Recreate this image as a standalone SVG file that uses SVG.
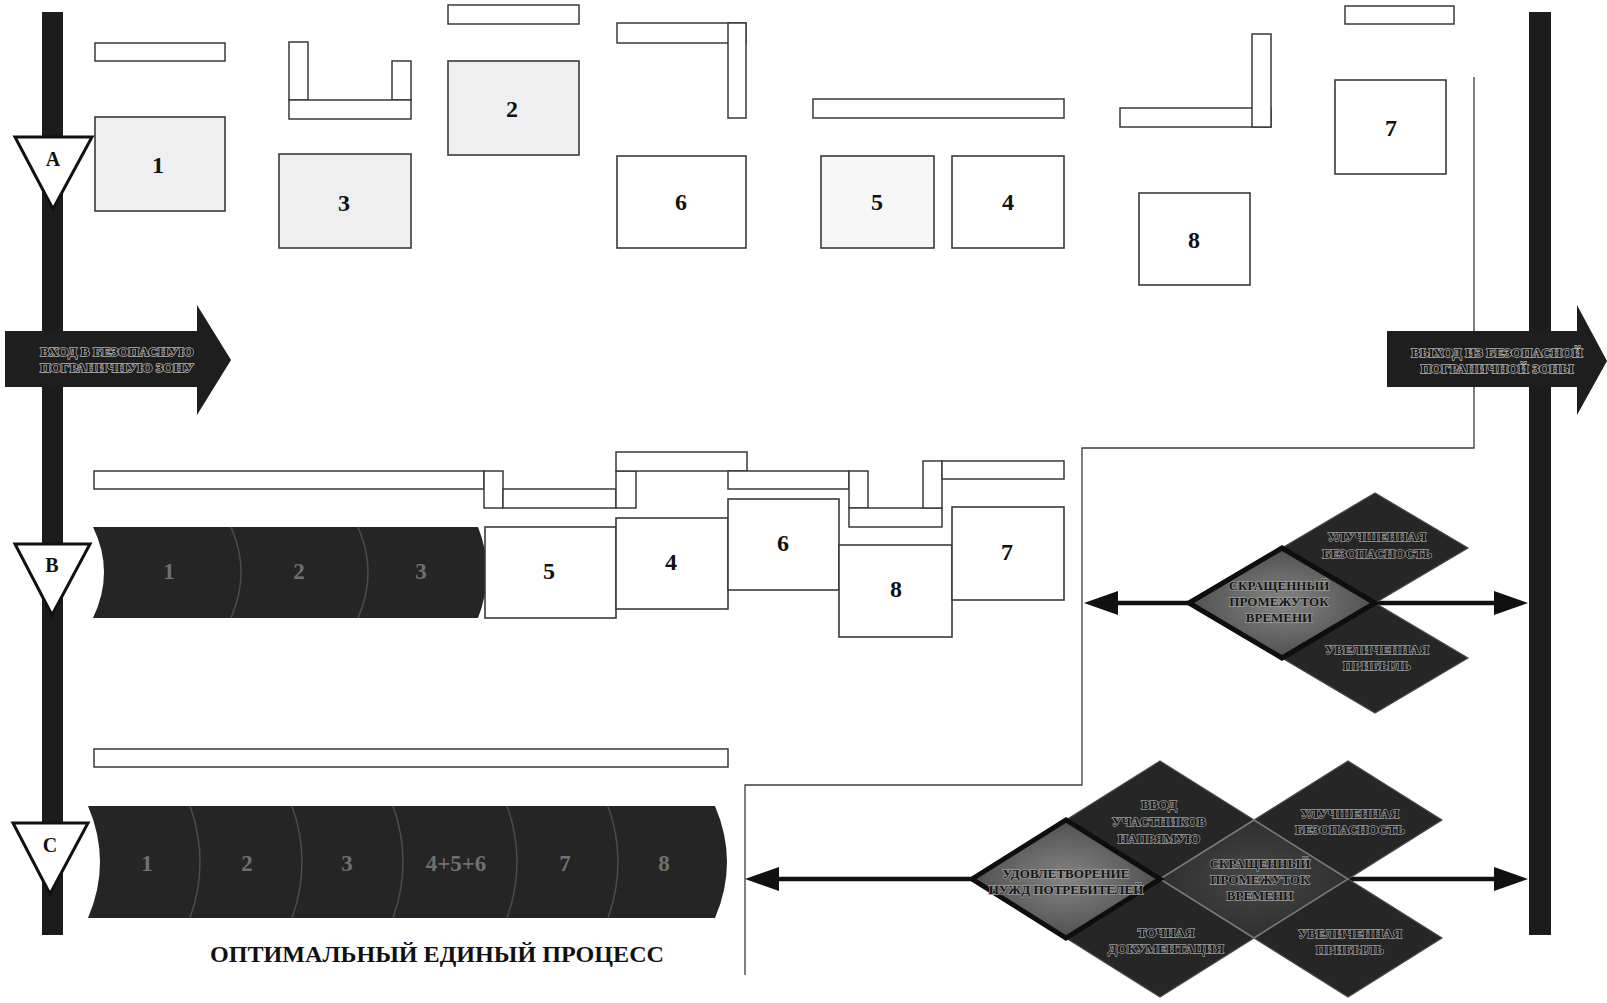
<svg xmlns="http://www.w3.org/2000/svg" width="1607" height="1003" viewBox="0 0 1607 1003">
<defs>
<style>
.bg{fill:#ffffff}
.box{fill:#ffffff;stroke:#3a3a3a;stroke-width:1.6}
.boxg{fill:#efefef;stroke:#3a3a3a;stroke-width:1.6}
.strip{fill:#ffffff;stroke:#3a3a3a;stroke-width:1.5}
.num{font-family:"Liberation Serif",serif;font-size:24px;font-weight:bold;fill:#111;text-anchor:middle;dominant-baseline:central}
.bnum{font-family:"Liberation Serif",serif;font-size:23px;font-weight:bold;fill:#707070;text-anchor:middle;dominant-baseline:central}
.bar{fill:#1c1c1c}
.band{fill:#252525}
.div{fill:none;stroke:#4c4c4c;stroke-width:1.5}
.tri{fill:#ffffff;stroke:#111;stroke-width:3;stroke-linejoin:miter}
.tl{font-family:"Liberation Serif",serif;font-size:20px;font-weight:bold;fill:#111;text-anchor:middle;dominant-baseline:central}
.arr{fill:#1e1e1e}
.at{font-family:"Liberation Serif",serif;font-size:13.5px;font-weight:bold;fill:#141414;stroke:#b0b0b0;stroke-width:1.5;paint-order:stroke;text-anchor:middle;dominant-baseline:central}
.dm{fill:#262626;stroke:#4a4a4a;stroke-width:1.2}
.dmm{fill:url(#gm);stroke:#7a7a7a;stroke-width:1.5}
.dmh{fill:url(#gh);stroke:#0e0e0e;stroke-width:5;stroke-linejoin:miter}
.dt{font-family:"Liberation Serif",serif;font-size:13px;font-weight:bold;fill:#151515;stroke:#9c9c9c;stroke-width:1.4;paint-order:stroke;text-anchor:middle;dominant-baseline:central}
.thin{fill:none;stroke:#3c3c3c;stroke-width:1.3}
.con{fill:none;stroke:#111;stroke-width:4.5}
.title{font-family:"Liberation Serif",serif;font-size:23px;font-weight:bold;fill:#111;text-anchor:middle;dominant-baseline:central}
</style>
<radialGradient id="gh" cx="50%" cy="50%" r="60%">
<stop offset="0" stop-color="#858585"/>
<stop offset="1" stop-color="#454545"/>
</radialGradient>
<radialGradient id="gm" cx="50%" cy="50%" r="60%">
<stop offset="0" stop-color="#474747"/>
<stop offset="1" stop-color="#2a2a2a"/>
</radialGradient>
<marker id="ah" markerUnits="userSpaceOnUse" markerWidth="36" markerHeight="26" refX="0" refY="12" orient="auto">
<path d="M0,0 L34,12 L0,24 Z" fill="#111"/>
</marker>
</defs>
<rect class="bg" x="0" y="0" width="1607" height="1003"/>

<!-- thin boundary line -->
<g id="boundary-line">
<path class="thin" d="M1474,77 V448 H1082 V785 H745 V975"/>
</g>

<!-- vertical bars -->
<g id="left-bar"><rect class="bar" x="42" y="12" width="21" height="923"/></g>
<g id="right-bar"><rect class="bar" x="1529" y="12" width="22" height="923"/></g>

<!-- Section A -->
<g id="a-strips">
<rect class="strip" x="95" y="43" width="130" height="18"/>
<rect class="strip" x="289" y="42" width="19" height="58"/>
<rect class="strip" x="392" y="61" width="19" height="39"/>
<rect class="strip" x="289" y="100" width="122" height="19"/>
<rect class="strip" x="448" y="5" width="131" height="19"/>
<rect class="strip" x="617" y="23" width="129" height="20"/>
<rect class="strip" x="728" y="23" width="18" height="95"/>
<rect class="strip" x="813" y="99" width="251" height="19"/>
<rect class="strip" x="1120" y="108" width="151" height="19"/>
<rect class="strip" x="1252" y="34" width="19" height="93"/>
<rect class="strip" x="1345" y="6" width="109" height="18"/>
</g>
<g id="a-box-1"><rect class="boxg" x="95" y="117" width="130" height="94"/><text class="num" x="158" y="165">1</text></g>
<g id="a-box-3"><rect class="boxg" x="279" y="154" width="132" height="94"/><text class="num" x="344" y="203">3</text></g>
<g id="a-box-2"><rect class="boxg" x="448" y="61" width="131" height="94"/><text class="num" x="512" y="109">2</text></g>
<g id="a-box-6"><rect class="box" x="617" y="156" width="129" height="92"/><text class="num" x="681" y="202">6</text></g>
<g id="a-box-5"><rect class="box" x="821" y="156" width="113" height="92" style="fill:#f7f7f7"/><text class="num" x="877" y="202">5</text></g>
<g id="a-box-4"><rect class="box" x="952" y="156" width="112" height="92"/><text class="num" x="1008" y="202">4</text></g>
<g id="a-box-8"><rect class="box" x="1139" y="193" width="111" height="92"/><text class="num" x="1194" y="240">8</text></g>
<g id="a-box-7"><rect class="box" x="1335" y="80" width="111" height="94"/><text class="num" x="1391" y="128">7</text></g>

<!-- Entry / exit arrows -->
<g id="entry-arrow">
<polygon class="arr" points="5,331 197,331 197,305 231,360 197,415 197,387 5,387"/>
<text class="at" x="117" y="351">ВХОД В БЕЗОПАСНУЮ</text>
<text class="at" x="117" y="367">ПОГРАНИЧНУЮ ЗОНУ</text>
</g>
<g id="exit-arrow">
<polygon class="arr" points="1387,331 1577,331 1577,305 1607,361 1577,415 1577,387 1387,387"/>
<text class="at" x="1497" y="352">ВЫХОД ИЗ БЕЗОПАСНОЙ</text>
<text class="at" x="1497" y="368">ПОГРАНИЧНОЙ ЗОНЫ</text>
</g>

<!-- Section B -->
<g id="b-strips">
<rect class="strip" x="94" y="471" width="390" height="18"/>
<rect class="strip" x="484" y="471" width="19" height="37"/>
<rect class="strip" x="503" y="489" width="113" height="19"/>
<rect class="strip" x="616" y="471" width="20" height="37"/>
<rect class="strip" x="616" y="452" width="131" height="19"/>
<rect class="strip" x="728" y="471" width="121" height="18"/>
<rect class="strip" x="849" y="471" width="19" height="37"/>
<rect class="strip" x="849" y="508" width="93" height="19"/>
<rect class="strip" x="923" y="461" width="19" height="47"/>
<rect class="strip" x="942" y="461" width="122" height="18"/>
</g>
<g id="b-band">
<path class="band" d="M93,527 L478,527 Q496,572 478,618 L93,618 Q115,572 93,527 Z"/>
<path class="div" d="M231,527 Q251,572 231,618"/>
<path class="div" d="M358,527 Q378,572 358,618"/>
<text class="bnum" x="169" y="571">1</text>
<text class="bnum" x="299" y="571">2</text>
<text class="bnum" x="421" y="571">3</text>
</g>
<g id="b-box-5"><rect class="box" x="485" y="527" width="131" height="91"/><text class="num" x="549" y="571">5</text></g>
<g id="b-box-4"><rect class="box" x="616" y="518" width="112" height="91"/><text class="num" x="671" y="562">4</text></g>
<g id="b-box-6"><rect class="box" x="728" y="499" width="111" height="91"/><text class="num" x="783" y="543">6</text></g>
<g id="b-box-8"><rect class="box" x="839" y="545" width="113" height="92"/><text class="num" x="896" y="589">8</text></g>
<g id="b-box-7"><rect class="box" x="952" y="507" width="112" height="93"/><text class="num" x="1007" y="552">7</text></g>

<!-- Section C -->
<g id="c-strip"><rect class="strip" x="94" y="749" width="634" height="18"/></g>
<g id="c-band">
<path class="band" d="M88,806 L715,806 Q739,862 715,918 L88,918 Q112,862 88,806 Z"/>
<path class="div" d="M190,806 Q210,862 190,918"/>
<path class="div" d="M292,806 Q312,862 292,918"/>
<path class="div" d="M393,806 Q413,862 393,918"/>
<path class="div" d="M507,806 Q527,862 507,918"/>
<path class="div" d="M608,806 Q628,862 608,918"/>
<text class="bnum" x="147" y="863">1</text>
<text class="bnum" x="247" y="863">2</text>
<text class="bnum" x="347" y="863">3</text>
<text class="bnum" x="456" y="863">4+5+6</text>
<text class="bnum" x="565" y="863">7</text>
<text class="bnum" x="664" y="863">8</text>
</g>
<g id="c-title"><text class="title" x="437" y="954" textLength="454" lengthAdjust="spacingAndGlyphs">ОПТИМАЛЬНЫЙ ЕДИНЫЙ ПРОЦЕСС</text></g>

<!-- triangles -->
<g id="marker-a"><polygon class="tri" points="15,137 92,137 53,209"/><text class="tl" x="53" y="159">A</text></g>
<g id="marker-b"><polygon class="tri" points="15,544 90,544 52,615"/><text class="tl" x="52" y="565">B</text></g>
<g id="marker-c"><polygon class="tri" points="13,823 88,823 50,894"/><text class="tl" x="50" y="845">C</text></g>

<!-- connectors -->
<g id="connectors">
<line class="con" x1="1189" y1="603" x2="1118" y2="603" marker-end="url(#ah)"/>
<line class="con" x1="1375" y1="603" x2="1494" y2="603" marker-end="url(#ah)"/>
<line class="con" x1="972" y1="879" x2="779" y2="879" marker-end="url(#ah)"/>
<line class="con" x1="1348" y1="879" x2="1494" y2="879" marker-end="url(#ah)"/>
</g>

<!-- B diamonds -->
<g id="b-d-safety"><polygon class="dm" points="1282,548 1375,493 1468,548 1375,603"/><text class="dt" x="1377" y="536">УЛУЧШЕННАЯ</text><text class="dt" x="1377" y="553">БЕЗОПАСНОСТЬ</text></g>
<g id="b-d-profit"><polygon class="dm" points="1282,658 1375,603 1468,658 1375,713"/><text class="dt" x="1377" y="649">УВЕЛИЧЕННАЯ</text><text class="dt" x="1377" y="665">ПРИБЫЛЬ</text></g>
<g id="b-d-time"><polygon class="dmh" points="1189,603 1282,548 1375,603 1282,658"/><text class="dt" x="1279" y="585">СКРАЩЕННЫЙ</text><text class="dt" x="1279" y="601">ПРОМЕЖУТОК</text><text class="dt" x="1279" y="617">ВРЕМЕНИ</text></g>

<!-- C diamonds -->
<g id="c-d-input"><polygon class="dm" points="1066,820 1160,761 1254,820 1160,879"/><text class="dt" x="1159" y="804">ВВОД</text><text class="dt" x="1159" y="821">УЧАСТНИКОВ</text><text class="dt" x="1159" y="838">НАПРЯМУЮ</text></g>
<g id="c-d-docs"><polygon class="dm" points="1066,938 1160,879 1254,938 1160,997"/><text class="dt" x="1166" y="932">ТОЧНАЯ</text><text class="dt" x="1166" y="948">ДОКУМЕНТАЦИЯ</text></g>
<g id="c-d-safety"><polygon class="dm" points="1254,820 1348,761 1442,820 1348,879"/><text class="dt" x="1350" y="813">УЛУЧШЕННАЯ</text><text class="dt" x="1350" y="829">БЕЗОПАСНОСТЬ</text></g>
<g id="c-d-profit"><polygon class="dm" points="1254,938 1348,879 1442,938 1348,997"/><text class="dt" x="1350" y="933">УВЕЛИЧЕННАЯ</text><text class="dt" x="1350" y="949">ПРИБЫЛЬ</text></g>
<g id="c-d-time"><polygon class="dmm" points="1160,879 1254,820 1348,879 1254,938"/><text class="dt" x="1260" y="863">СКРАЩЕННЫЙ</text><text class="dt" x="1260" y="879">ПРОМЕЖУТОК</text><text class="dt" x="1260" y="895">ВРЕМЕНИ</text></g>
<g id="c-d-needs"><polygon class="dmh" points="972,879 1066,820 1160,879 1066,938"/><text class="dt" x="1066" y="873">УДОВЛЕТВОРЕНИЕ</text><text class="dt" x="1066" y="889">НУЖД ПОТРЕБИТЕЛЕЙ</text></g>
</svg>
